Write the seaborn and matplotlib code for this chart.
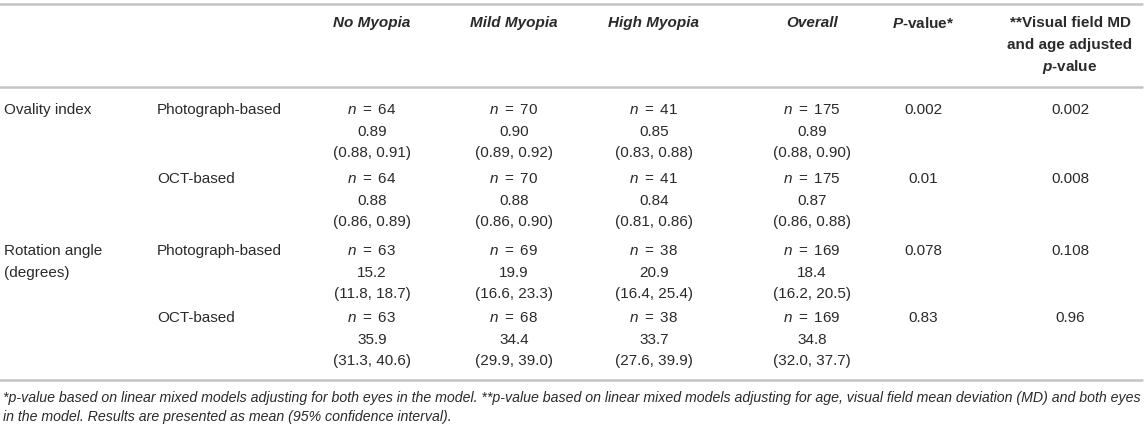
import matplotlib
matplotlib.use("Agg")
import matplotlib.pyplot as plt
import seaborn as sns

# ---------------- data ----------------
groups = ["No Myopia", "Mild Myopia", "High Myopia", "Overall"]
measures = ["Ovality index", "Rotation angle"]
measure_sub = ["", "(degrees)"]
methods = ["Photograph-based", "OCT-based", "Photograph-based", "OCT-based"]
n_values = [[64, 70, 41, 175], [64, 70, 41, 175], [63, 69, 38, 169], [63, 68, 38, 169]]
means = [[0.89, 0.90, 0.85, 0.89], [0.88, 0.88, 0.84, 0.87],
         [15.2, 19.9, 20.9, 18.4], [35.9, 34.4, 33.7, 34.8]]
ci_low = [[0.88, 0.89, 0.83, 0.88], [0.86, 0.86, 0.81, 0.86],
          [11.8, 16.6, 16.4, 16.2], [31.3, 29.9, 27.6, 32.0]]
ci_high = [[0.91, 0.92, 0.88, 0.90], [0.89, 0.90, 0.86, 0.88],
           [18.7, 23.3, 25.4, 20.5], [40.6, 39.0, 39.9, 37.7]]
decimals = [2, 2, 1, 1]
p_values = ["0.002", "0.01", "0.078", "0.83"]
p_adjusted = ["0.002", "0.008", "0.108", "0.96"]
footnote = [
    "*p-value based on linear mixed models adjusting for both eyes in the model. "
    "**p-value based on linear mixed models adjusting for age, visual field mean deviation (MD) and both eyes",
    "in the model. Results are presented as mean (95% confidence interval).",
]

# ---------------- style ----------------
sns.set_theme(style="white")
plt.rcParams["font.family"] = ["Liberation Sans", "DejaVu Sans"]
plt.rcParams["mathtext.fontset"] = "custom"
plt.rcParams["mathtext.rm"] = "Liberation Sans"
plt.rcParams["mathtext.it"] = "Liberation Sans:italic"
plt.rcParams["mathtext.bf"] = "Liberation Sans:bold"
try:
    plt.rcParams["mathtext.bfit"] = "Liberation Sans:italic:bold"
    BFIT = True
except Exception:
    BFIT = False

TXT = "#2a2a2a"
LINE = "#c4c4c4"
FS = 11

W, H = 1145, 430
fig = plt.figure(figsize=(W / 100, H / 100), dpi=100)
ax = fig.add_axes([0, 0, 1, 1])
ax.set_xlim(0, W)
ax.set_ylim(H, 0)
ax.axis("off")
sns.despine(ax=ax, left=True, bottom=True)

col_x = [372, 514, 654, 812]
p_x = 923
padj_x = 1070
x_measure = 4
x_method = 157

# rules
for y in (4, 87, 380):
    ax.axhline(y, color=LINE, lw=1.8, xmin=0, xmax=1142 / W)

# header
hy = 23
for g, x in zip(groups, col_x):
    ax.text(x, hy, g, ha="center", va="center", fontsize=FS, color=TXT,
            fontweight="bold", fontstyle="italic")

def bi(letter):
    return (r"$\mathbfit{%s}$" % letter) if BFIT else (r"$\mathit{%s}$" % letter)

ax.text(p_x, hy, bi("P") + "-value*", ha="center", va="center", fontsize=FS,
        color=TXT, fontweight="bold")
for i, line in enumerate(["**Visual field MD", "and age adjusted", bi("p") + "-value"]):
    ax.text(padj_x, hy + 22 * i, line, ha="center", va="center", fontsize=FS,
            color=TXT, fontweight="bold")

# body
block_y = [110, 179, 251, 318]
dy = 21.7
for r in range(4):
    y0 = block_y[r]
    if r % 2 == 0:
        m = r // 2
        ax.text(x_measure, y0, measures[m], ha="left", va="center", fontsize=FS, color=TXT)
        if measure_sub[m]:
            ax.text(x_measure, y0 + dy, measure_sub[m], ha="left", va="center",
                    fontsize=FS, color=TXT)
    ax.text(x_method, y0, methods[r], ha="left", va="center", fontsize=FS, color=TXT)
    d = decimals[r]
    for c, x in enumerate(col_x):
        ax.text(x, y0, r"$n\ =\ %d$" % n_values[r][c], ha="center",
                va="center", fontsize=FS, color=TXT)
        ax.text(x, y0 + dy, f"{means[r][c]:.{d}f}", ha="center", va="center",
                fontsize=FS, color=TXT)
        ax.text(x, y0 + 2 * dy, f"({ci_low[r][c]:.{d}f}, {ci_high[r][c]:.{d}f})",
                ha="center", va="center", fontsize=FS, color=TXT)
    ax.text(p_x, y0, p_values[r], ha="center", va="center", fontsize=FS, color=TXT)
    ax.text(padj_x, y0, p_adjusted[r], ha="center", va="center", fontsize=FS, color=TXT)

# footnote, sized to span the table width
fn = [ax.text(3, 398, footnote[0], ha="left", va="center", fontsize=9.5,
              color=TXT, fontstyle="italic"),
      ax.text(3, 417, footnote[1], ha="left", va="center", fontsize=9.5,
              color=TXT, fontstyle="italic")]
renderer = fig.canvas.get_renderer()
wpx = fn[0].get_window_extent(renderer).width
scale = 1138 / wpx
for t in fn:
    t.set_fontsize(9.5 * scale)

fig.savefig("out.png", dpi=100, facecolor="white")
